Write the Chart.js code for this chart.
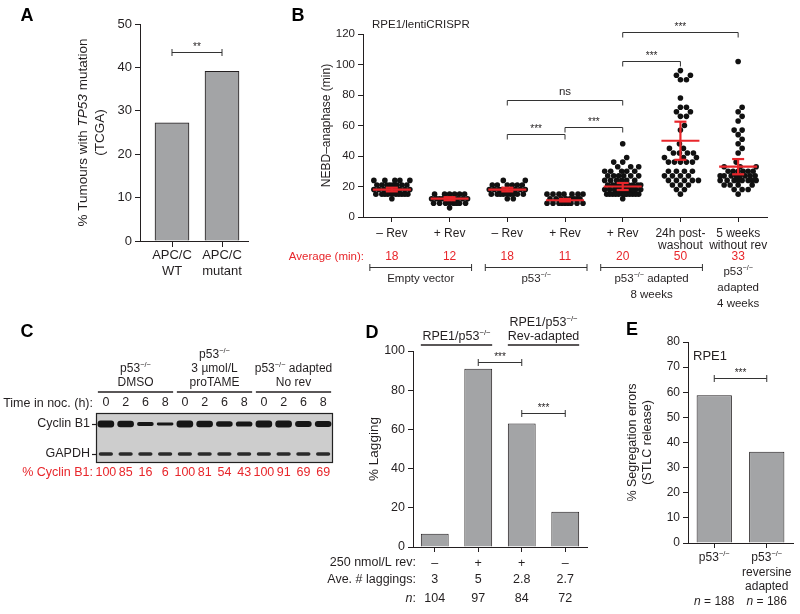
<!DOCTYPE html>
<html>
<head>
<meta charset="utf-8">
<title>Figure</title>
<script src="https://cdn.jsdelivr.net/npm/chart.js@4.4.1/dist/chart.umd.min.js"></script>
<style>
  html, body { margin: 0; padding: 0; background: #fff; }
  #fig { position: relative; width: 800px; height: 614px; overflow: hidden; }
  .panel { position: absolute; }
</style>
</head>
<body>
<div id="fig">
  <div class="panel" style="left:0;top:0;width:260px;height:300px"><canvas id="chartA"></canvas></div>
  <div class="panel" style="left:270px;top:0;width:520px;height:320px"><canvas id="chartB"></canvas></div>
  <div class="panel" style="left:0;top:300px;width:345px;height:190px"><canvas id="chartC"></canvas></div>
  <div class="panel" style="left:290px;top:300px;width:310px;height:314px"><canvas id="chartD"></canvas></div>
  <div class="panel" style="left:600px;top:300px;width:200px;height:314px"><canvas id="chartE"></canvas></div>
</div>
<script>
const FONT = '"Liberation Sans", Arial, Helvetica, sans-serif';
const INK = '#231f20';
const RED = '#e8262b';
const BAR = '#a3a4a6';

// --- Panel A: TCGA ---
const catsA = [['APC/C', 'WT'], ['APC/C', 'mutant']];
const tp53A = [27.2, 39.1];
const sigA = [0, 1, 43.5, '**'];

// --- Panel B: NEBD-anaphase timings (min) ---
const catsB = [['– Rev'], ['+ Rev'], ['– Rev'], ['+ Rev'], ['+ Rev'], ['24h post-', 'washout'], ['5 weeks', 'without rev']];
const emptyMinus = [24, 24, 24, 24, 24, 21, 21, 21, 21, 21, 21, 21, 21, 18, 18, 18, 18, 18, 18, 18, 18, 18, 18, 15, 15, 15, 15, 15, 15, 15, 15, 15, 15, 12];
const emptyPlus = [15, 15, 15, 15, 15, 15, 12, 12, 12, 12, 12, 12, 12, 12, 12, 12, 9, 9, 9, 9, 9, 9, 9, 9, 6];
const p53Minus = [24, 24, 21, 21, 21, 21, 21, 21, 18, 18, 18, 18, 18, 18, 18, 18, 18, 15, 15, 15, 15, 15, 15, 15, 15, 15, 12, 12];
const p53Plus = [15, 15, 15, 15, 15, 15, 15, 12, 12, 12, 12, 12, 12, 12, 12, 9, 9, 9, 9, 9, 9, 9, 9, 9];
const adaptedPlus = [48, 39, 36, 36, 33, 33, 33, 30, 30, 30, 30, 30, 27, 27, 27, 27, 27, 27, 24, 24, 24, 24, 24, 24,
  21, 21, 21, 21, 21, 21, 21, 21, 21, 18, 18, 18, 18, 18, 18, 18, 18, 18, 18, 18, 18, 15, 15, 15, 15, 15, 15, 15, 15, 15, 15, 15, 15, 12];
const washout = [96, 93, 93, 90, 90, 78, 72, 72, 69, 69, 66, 66, 60, 57, 48, 45, 45, 42, 42, 42, 42, 39, 39, 39,
  36, 36, 36, 36, 36, 30, 30, 30, 30, 27, 27, 27, 27, 24, 24, 24, 24, 24, 21, 21, 21, 18, 18, 15];
const fiveWeeks = [102, 72, 69, 66, 63, 57, 57, 54, 51, 48, 45, 42, 36, 33, 33, 33, 30, 30, 30, 30, 30, 30,
  27, 27, 27, 27, 27, 27, 27, 27, 24, 24, 24, 24, 24, 24, 24, 24, 21, 21, 21, 21, 18, 18, 18, 15];
const groupsB = [emptyMinus, emptyPlus, p53Minus, p53Plus, adaptedPlus, washout, fiveWeeks];
const meansB = [18, 12, 18, 11, 20, 50, 33];
const errB = [1.2, 1.0, 1.2, 0.8, 2.3, 12.5, 5];
const sigB = [[4, 6, 121.5, '***'], [4, 5, 102, '***'], [2, 4, 77, 'ns'], [2, 3, 54.5, '***'], [3, 4, 59, '***']];
const groupNamesB = [['Empty vector'], ['p53^−/−^'], ['p53^−/−^ adapted', '8 weeks'], ['p53^−/−^', 'adapted', '4 weeks']];
const groupSpanB = [[0, 1], [2, 3], [4, 5], [6, 6]];

// --- Panel C: western blot ---
const laneTimes = ['0', '2', '6', '8', '0', '2', '6', '8', '0', '2', '6', '8'];
const cyclinPct = [100, 85, 16, 6, 100, 81, 54, 43, 100, 91, 69, 69];
const headC = [['p53^−/−^', 'DMSO'], ['p53^−/−^', '3 µmol/L', 'proTAME'], ['p53^−/−^ adapted', 'No rev']];
const spanC = [[0, 3], [4, 7], [8, 11]];

// --- Panel D: lagging chromosomes ---
const revD = ['–', '+', '+', '–'];
const laggingD = [6.7, 91, 63, 18];
const aveLagD = ['3', '5', '2.8', '2.7'];
const nD = ['104', '97', '84', '72'];
const headD = [['RPE1/p53^−/−^'], ['RPE1/p53^−/−^', 'Rev-adapted']];
const spanD = [[0, 1], [2, 3]];
const sigD = [[1, 2, 94.4, '***'], [2, 3, 68.4, '***']];

// --- Panel E: segregation errors ---
const catsE = [['p53^−/−^'], ['p53^−/−^', 'reversine', 'adapted']];
const segE = [58.8, 36.3];
const nE = ['188', '186'];
const sigE = [0, 1, 65.7, '***'];

Chart.defaults.font.family = FONT;
Chart.defaults.color = INK;
Chart.defaults.animation = false;
Chart.defaults.responsive = true;
Chart.defaults.maintainAspectRatio = false;
Chart.defaults.plugins.legend.display = false;
Chart.defaults.plugins.tooltip.enabled = false;

// text with ^superscript^ and _italic_ runs
function rich(ctx, text, x, y, size, align, color, bold) {
  const segs = text.split(/(\^[^^]*\^|_[^_]*_)/).filter(s => s).map(p => {
    if (p[0] === '^') return { t: p.slice(1, -1), sup: true };
    if (p[0] === '_') return { t: p.slice(1, -1), it: true };
    return { t: p };
  });
  const fontOf = s => (s.it ? 'italic ' : '') + (bold ? 'bold ' : '') + (s.sup ? size * 0.62 : size) + 'px ' + FONT;
  let w = 0;
  segs.forEach(s => { ctx.font = fontOf(s); s.w = ctx.measureText(s.t).width; w += s.w; });
  let cx = align === 'center' ? x - w / 2 : align === 'right' ? x - w : x;
  ctx.save();
  ctx.fillStyle = color || INK;
  ctx.textBaseline = 'middle';
  ctx.textAlign = 'left';
  segs.forEach(s => {
    ctx.font = fontOf(s);
    ctx.fillText(s.t, cx, s.sup ? y - size * 0.36 : y);
    cx += s.w;
  });
  ctx.restore();
}

function vtext(ctx, lines, xs, yc, size) {
  lines.forEach((t, i) => {
    ctx.save();
    ctx.translate(xs[i], yc);
    ctx.rotate(-Math.PI / 2);
    rich(ctx, t, 0, 0, size, 'center');
    ctx.restore();
  });
}

function letter(ctx, t, x, y) {
  ctx.save();
  ctx.font = 'bold 18px ' + FONT;
  ctx.fillStyle = '#000';
  ctx.textAlign = 'center';
  ctx.textBaseline = 'middle';
  ctx.fillText(t, x, y);
  ctx.restore();
}

function seg(ctx, x1, y1, x2, y2) {
  ctx.beginPath(); ctx.moveTo(x1, y1); ctx.lineTo(x2, y2); ctx.stroke();
}

function stars(ctx, t, x, y) {
  if (t === 'ns') rich(ctx, t, x, y - 9, 11.5, 'center');
  else rich(ctx, t, x, y - 5, 10, 'center');
}

// |----| bracket
function capBracket(ctx, x1, x2, yy, label) {
  const y = Math.round(yy) + 0.5;
  ctx.save();
  ctx.strokeStyle = '#333'; ctx.lineWidth = 1;
  seg(ctx, x1, y, x2, y);
  seg(ctx, x1, y - 3.5, x1, y + 3.5);
  seg(ctx, x2, y - 3.5, x2, y + 3.5);
  ctx.restore();
  if (label) stars(ctx, label, (x1 + x2) / 2, y);
}

// bracket with ends dropping down
function dropBracket(ctx, x1, x2, yy, label) {
  const y = Math.round(yy) + 0.5;
  ctx.save();
  ctx.strokeStyle = '#333'; ctx.lineWidth = 1;
  ctx.beginPath();
  ctx.moveTo(x1, y + 5); ctx.lineTo(x1, y); ctx.lineTo(x2, y); ctx.lineTo(x2, y + 5);
  ctx.stroke();
  ctx.restore();
  stars(ctx, label, (x1 + x2) / 2, y);
}

function yAxis(max, step, width, size) {
  return {
    min: 0, max: max,
    ticks: { stepSize: step, font: { size: size }, color: INK, padding: 3 },
    grid: { drawOnChartArea: false, tickLength: 5, tickColor: INK, tickWidth: 1 },
    border: { color: INK, width: 1 },
    afterFit: s => { s.width = width; }
  };
}

function xGrid() {
  return { offset: false, drawOnChartArea: false, tickLength: 5, tickColor: INK, tickWidth: 1 };
}

// simple beeswarm in pixel space
const PX_X = 404 / 7, PX_Y = 183 / 120;
function swarm(vals, idx) {
  const d = 5.6, cap = 18;
  const cands = [0];
  for (let k = 1; k <= cap; k++) cands.push(k, -k);
  const placed = [];
  vals.slice().sort((a, b) => a - b).forEach(v => {
    const py = v * PX_Y;
    let best = 0, bestGap = -1;
    for (const off of cands) {
      let gap = Infinity;
      placed.forEach(p => { gap = Math.min(gap, Math.hypot(p.px - off, p.py - py)); });
      if (gap >= d) { best = off; bestGap = gap; break; }
      if (gap > bestGap) { bestGap = gap; best = off; }
    }
    placed.push({ px: best, py: py, v: v });
  });
  return placed.map(p => ({ x: idx + p.px / PX_X, y: p.v }));
}

// ---------- A ----------
new Chart(document.getElementById('chartA'), {
  type: 'bar',
  data: {
    datasets: [{
      data: tp53A.map((v, i) => ({ x: i, y: v })),
      backgroundColor: BAR, borderColor: INK, borderWidth: 1, barThickness: 34
    }]
  },
  options: {
    layout: { padding: { left: 0, top: 24, right: 12, bottom: 0 } },
    scales: {
      x: {
        type: 'linear', min: -0.64, max: 1.52, offset: false,
        afterBuildTicks: s => { s.ticks = catsA.map((c, i) => ({ value: i })); },
        ticks: { callback: v => catsA[v], font: { size: 13 }, padding: 1, maxRotation: 0, autoSkip: false, color: INK },
        grid: Object.assign(xGrid(), { tickLength: 6 }),
        border: { color: INK, width: 1 },
        afterFit: s => { s.height = 59; }
      },
      y: yAxis(50, 10, 140, 13)
    }
  },
  plugins: [{
    id: 'extrasA',
    afterDraw(chart) {
      const { ctx, scales: { x, y }, chartArea: ca } = chart;
      letter(ctx, 'A', 27, 16);
      vtext(ctx, ['% Tumours with _TP53_ mutation', '(TCGA)'], [83, 100], (ca.top + ca.bottom) / 2, 13.5);
      capBracket(ctx, x.getPixelForValue(sigA[0]), x.getPixelForValue(sigA[1]), y.getPixelForValue(sigA[2]), sigA[3]);
    }
  }]
});

// ---------- B ----------
new Chart(document.getElementById('chartB'), {
  type: 'scatter',
  data: {
    datasets: [{
      data: groupsB.flatMap((g, i) => swarm(g, i)),
      pointRadius: 2.8, pointBackgroundColor: '#111', pointBorderWidth: 0
    }]
  },
  options: {
    layout: { padding: { left: 0, top: 34, right: 23, bottom: 0 } },
    scales: {
      x: {
        type: 'linear', min: -0.5, max: 6.5,
        afterBuildTicks: s => { s.ticks = catsB.map((c, i) => ({ value: i })); },
        ticks: { callback: v => catsB[v], font: { size: 12, lineHeight: 1.05 }, padding: 5, maxRotation: 0, autoSkip: false, color: INK },
        grid: xGrid(),
        border: { color: INK, width: 1 },
        afterFit: s => { s.height = 103; }
      },
      y: yAxis(120, 20, 93, 11.5)
    }
  },
  plugins: [{
    id: 'extrasB',
    afterDraw(chart) {
      const { ctx, scales: { x, y }, chartArea: ca } = chart;
      letter(ctx, 'B', 28, 16);
      rich(ctx, 'RPE1/lentiCRISPR', 102, 25, 11.5, 'left');
      vtext(ctx, ['NEBD–anaphase (min)'], [57], (ca.top + ca.bottom) / 2, 12);
      ctx.save();
      ctx.strokeStyle = RED; ctx.lineWidth = 2.2;
      meansB.forEach((m, i) => {
        const cx = x.getPixelForValue(i), half = 19, cap = 6;
        const ym = y.getPixelForValue(m), yt = y.getPixelForValue(m + errB[i]), yb = y.getPixelForValue(m - errB[i]);
        seg(ctx, cx - half, ym, cx + half, ym);
        seg(ctx, cx, yt, cx, yb);
        seg(ctx, cx - cap, yt, cx + cap, yt);
        seg(ctx, cx - cap, yb, cx + cap, yb);
      });
      ctx.restore();
      sigB.forEach(s => dropBracket(ctx, x.getPixelForValue(s[0]), x.getPixelForValue(s[1]), y.getPixelForValue(s[2]), s[3]));
      rich(ctx, 'Average (min):', ca.left + 1, 257, 11.5, 'right', RED);
      meansB.forEach((m, i) => rich(ctx, String(m), x.getPixelForValue(i), 257, 12, 'center', RED));
      groupNamesB.forEach((lines, k) => {
        const [a, b] = groupSpanB[k];
        const x1 = x.getPixelForValue(a) - 22, x2 = x.getPixelForValue(b) + 22;
        let y0 = 279;
        if (a !== b) capBracket(ctx, x1, x2, 266.5, null);
        else y0 = 272;
        lines.forEach((t, j) => rich(ctx, t, (x1 + x2) / 2, y0 + j * 16, 11.5, 'center'));
      });
    }
  }]
});

// ---------- C ----------
const CYC_ROW = 7.8, GAP_ROW = 1.8;
const bandHalf = p => (1.6 + 5.4 * Math.sqrt(p / 100)) / 10;
new Chart(document.getElementById('chartC'), {
  type: 'bar',
  data: {
    labels: laneTimes,
    datasets: [
      {
        data: cyclinPct.map(p => [CYC_ROW - bandHalf(p), CYC_ROW + bandHalf(p)]),
        backgroundColor: '#161616', barPercentage: 0.84, categoryPercentage: 1,
        grouped: false, borderRadius: 3, borderSkipped: false
      },
      {
        data: laneTimes.map(() => [GAP_ROW - 0.36, GAP_ROW + 0.36]),
        backgroundColor: '#2a2a2a', barPercentage: 0.72, categoryPercentage: 1,
        grouped: false, borderRadius: 2, borderSkipped: false
      }
    ]
  },
  options: {
    layout: { padding: { left: 0, top: 0, right: 12, bottom: 27 } },
    scales: {
      x: {
        position: 'top',
        ticks: { font: { size: 12.5 }, padding: 3, maxRotation: 0, autoSkip: false, color: INK },
        grid: { display: false, drawTicks: false },
        border: { display: false },
        afterFit: s => { s.height = 113; }
      },
      y: {
        min: 0, max: 10,
        afterBuildTicks: s => { s.ticks = [{ value: GAP_ROW }, { value: CYC_ROW }]; },
        ticks: { callback: v => (v > 5 ? 'Cyclin B1' : 'GAPDH'), font: { size: 12.5 }, padding: 2, color: INK },
        grid: { drawOnChartArea: false, tickLength: 4, tickColor: INK, tickWidth: 1.2 },
        border: { display: false },
        afterFit: s => { s.width = 96; }
      }
    }
  },
  plugins: [{
    id: 'extrasC',
    beforeDatasetsDraw(chart) {
      const { ctx, chartArea: ca } = chart;
      ctx.save();
      ctx.fillStyle = '#cdcdcd';
      ctx.fillRect(ca.left, ca.top, ca.width, ca.height);
      ctx.strokeStyle = '#222'; ctx.lineWidth = 1.2;
      ctx.strokeRect(ca.left + 0.5, ca.top + 0.5, ca.width - 1, ca.height - 1);
      ctx.restore();
    },
    afterDraw(chart) {
      const { ctx, scales: { x }, chartArea: ca } = chart;
      letter(ctx, 'C', 27, 32);
      headC.forEach((lines, k) => {
        const [a, b] = spanC[k];
        const x1 = x.getPixelForValue(a) - 8, x2 = x.getPixelForValue(b) + 8;
        ctx.save(); ctx.strokeStyle = INK; ctx.lineWidth = 1.4;
        seg(ctx, x1, 92, x2, 92);
        ctx.restore();
        lines.forEach((t, j) => rich(ctx, t, (x1 + x2) / 2, 83 - (lines.length - 1 - j) * 14, 12, 'center'));
      });
      rich(ctx, 'Time in noc. (h):', ca.left - 3, 104, 12.5, 'right');
      rich(ctx, '% Cyclin B1:', ca.left - 3, 173, 12.5, 'right', RED);
      cyclinPct.forEach((p, i) => rich(ctx, String(p), x.getPixelForValue(i), 173, 12.5, 'center', RED));
    }
  }]
});

// ---------- D ----------
new Chart(document.getElementById('chartD'), {
  type: 'bar',
  data: {
    labels: revD,
    datasets: [{ data: laggingD, backgroundColor: BAR, borderColor: INK, borderWidth: 1, barPercentage: 0.8, categoryPercentage: 0.8 }]
  },
  options: {
    layout: { padding: { left: 0, top: 51, right: 13, bottom: 0 } },
    scales: {
      x: {
        ticks: { font: { size: 12.5 }, padding: 4, maxRotation: 0, autoSkip: false, color: INK },
        grid: xGrid(),
        border: { color: INK, width: 1 },
        afterFit: s => { s.height = 67; }
      },
      y: yAxis(100, 20, 123, 12.5)
    }
  },
  plugins: [{
    id: 'extrasD',
    afterDraw(chart) {
      const { ctx, scales: { x, y }, chartArea: ca } = chart;
      const bars = chart.getDatasetMeta(0).data;
      letter(ctx, 'D', 82, 33);
      vtext(ctx, ['% Lagging'], [84], (ca.top + ca.bottom) / 2, 13.5);
      headD.forEach((lines, k) => {
        const [a, b] = spanD[k];
        const x1 = bars[a].x - bars[a].width / 2, x2 = bars[b].x + bars[b].width / 2;
        ctx.save(); ctx.strokeStyle = INK; ctx.lineWidth = 1.4;
        seg(ctx, x1, 45, x2, 45);
        ctx.restore();
        lines.forEach((t, j) => rich(ctx, t, (x1 + x2) / 2, 37 - (lines.length - 1 - j) * 14, 12.5, 'center'));
      });
      sigD.forEach(s => capBracket(ctx, x.getPixelForValue(s[0]), x.getPixelForValue(s[1]), y.getPixelForValue(s[2]), s[3]));
      rich(ctx, '250 nmol/L rev:', ca.left + 3, 263, 12.5, 'right');
      rich(ctx, 'Ave. # laggings:', ca.left + 3, 280, 12.5, 'right');
      rich(ctx, '_n_:', ca.left + 3, 299, 12.5, 'right');
      aveLagD.forEach((v, i) => rich(ctx, v, x.getPixelForValue(i), 280, 12.5, 'center'));
      nD.forEach((v, i) => rich(ctx, v, x.getPixelForValue(i), 299, 12.5, 'center'));
    }
  }]
});

// ---------- E ----------
new Chart(document.getElementById('chartE'), {
  type: 'bar',
  data: {
    labels: catsE.map(() => ''),
    datasets: [{ data: segE, backgroundColor: BAR, borderColor: INK, borderWidth: 1, barPercentage: 0.84, categoryPercentage: 0.8 }]
  },
  options: {
    layout: { padding: { left: 0, top: 42, right: 7, bottom: 0 } },
    scales: {
      x: {
        ticks: { display: true, padding: 0 },
        grid: xGrid(),
        border: { color: INK, width: 1 },
        afterFit: s => { s.height = 71; }
      },
      y: yAxis(80, 10, 88, 12)
    }
  },
  plugins: [{
    id: 'extrasE',
    afterDraw(chart) {
      const { ctx, scales: { x, y }, chartArea: ca } = chart;
      letter(ctx, 'E', 32, 30);
      rich(ctx, 'RPE1', ca.left + 5, 56, 13, 'left');
      vtext(ctx, ['% Segregation errors', '(STLC release)'], [33, 48], (ca.top + ca.bottom) / 2, 12.5);
      capBracket(ctx, x.getPixelForValue(sigE[0]), x.getPixelForValue(sigE[1]), y.getPixelForValue(sigE[2]), sigE[3]);
      catsE.forEach((lines, i) => lines.forEach((t, j) => rich(ctx, t, x.getPixelForValue(i), 258 + j * 14.5, 12, 'center')));
      nE.forEach((v, i) => rich(ctx, '_n_ = ' + v, x.getPixelForValue(i), 302, 12, 'center'));
    }
  }]
});
</script>
</body>
</html>
